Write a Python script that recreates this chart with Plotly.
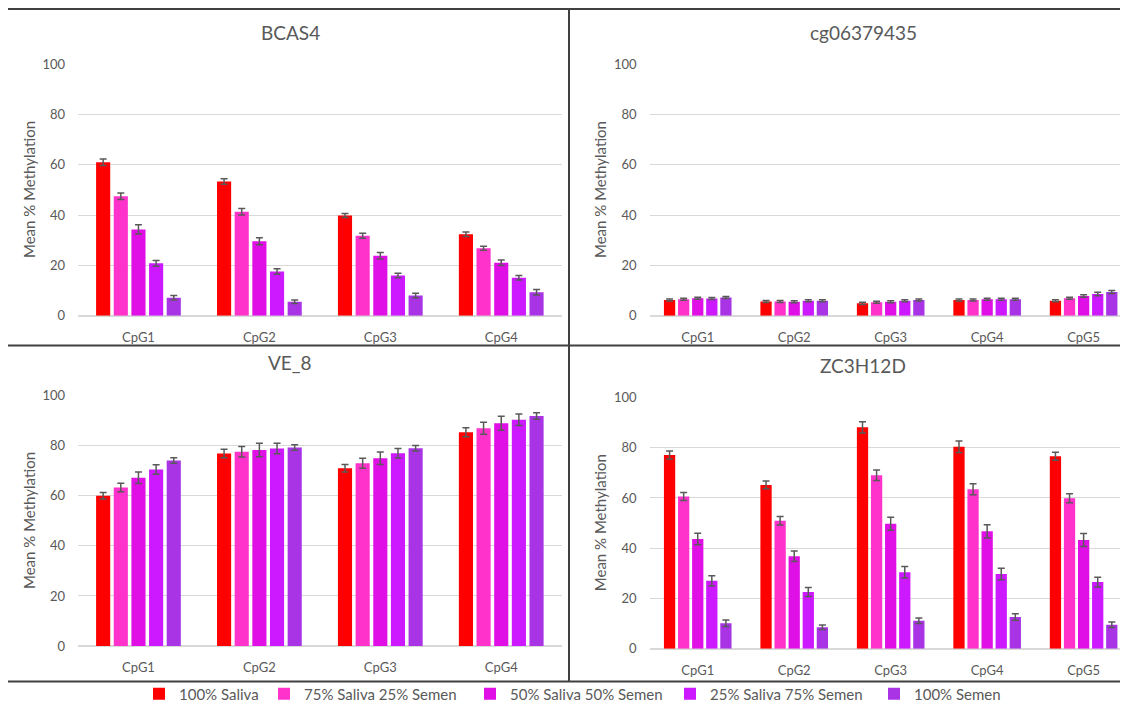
import plotly.graph_objects as go

# ---------------- data ----------------
series_names = ["100% Saliva", "75% Saliva 25% Semen", "50% Saliva 50% Semen",
                "25% Saliva 75% Semen", "100% Semen"]
series_colors = ["#FF0000", "#FF33CC", "#E00FE6", "#CC19FF", "#A834E6"]

cpg4 = ["CpG1", "CpG2", "CpG3", "CpG4"]
cpg5 = ["CpG1", "CpG2", "CpG3", "CpG4", "CpG5"]

# each list: one row per series (100% Saliva ... 100% Semen), one value per CpG
bcas4_values = [
    [61.0, 53.3, 39.8, 32.4],
    [47.5, 41.3, 31.8, 26.8],
    [34.3, 29.6, 23.8, 21.0],
    [20.8, 17.6, 16.0, 15.1],
    [7.1, 5.5, 8.0, 9.3],
]
bcas4_errors = [
    [1.3, 1.1, 0.8, 0.9],
    [1.3, 1.3, 1.0, 0.8],
    [1.8, 1.4, 1.3, 1.1],
    [1.1, 1.1, 0.9, 0.9],
    [0.9, 0.7, 0.9, 1.1],
]

cg06379435_values = [
    [6.2, 5.6, 4.9, 6.2, 5.9],
    [6.5, 5.6, 5.3, 6.2, 6.9],
    [6.9, 5.5, 5.5, 6.5, 7.8],
    [6.8, 5.9, 5.9, 6.5, 8.6],
    [7.2, 5.9, 6.2, 6.5, 9.4],
]
cg06379435_errors = [
    [0.4, 0.4, 0.4, 0.4, 0.4],
    [0.4, 0.4, 0.4, 0.4, 0.4],
    [0.4, 0.4, 0.4, 0.4, 0.5],
    [0.4, 0.4, 0.4, 0.4, 0.7],
    [0.4, 0.4, 0.4, 0.4, 0.6],
]

ve8_values = [
    [60.0, 76.9, 71.0, 85.4],
    [63.3, 77.6, 73.0, 87.0],
    [67.2, 78.3, 75.0, 89.0],
    [70.5, 78.9, 77.0, 90.4],
    [74.1, 79.3, 79.0, 91.9],
]
ve8_errors = [
    [1.3, 1.7, 1.5, 1.8],
    [1.7, 2.1, 2.0, 2.4],
    [2.3, 2.7, 2.5, 2.8],
    [1.9, 2.1, 1.9, 2.3],
    [1.1, 1.1, 1.1, 1.3],
]

zc3h12d_values = [
    [77.1, 65.2, 88.1, 80.4, 76.6],
    [60.6, 50.9, 69.0, 63.5, 59.9],
    [43.7, 36.8, 49.7, 46.7, 43.3],
    [27.0, 22.6, 30.4, 29.7, 26.5],
    [10.1, 8.5, 11.1, 12.6, 9.5],
]
zc3h12d_errors = [
    [1.6, 1.5, 2.2, 2.3, 1.6],
    [1.6, 1.7, 2.1, 2.2, 1.8],
    [2.3, 2.1, 2.6, 2.6, 2.6],
    [2.0, 1.8, 2.3, 2.3, 1.9],
    [1.3, 0.9, 1.1, 1.3, 1.1],
]

panel_titles = ["BCAS4", "cg06379435", "VE_8", "ZC3H12D"]
y_title = "Mean % Methylation"

# ---------------- figure ----------------
# the page body has an 8px margin, so the figure is 8px smaller and every
# screen position below is shifted by that offset
OFF = 8
FW, FH = 1128 - OFF, 707 - OFF
FONT = "Lato, Carlito, 'Open Sans', sans-serif"
TXT = "#595959"
GRID = "#D9D9D9"


def px_x(p):
    return min(max((p - OFF) / FW, 0.0), 1.0)


def px_y(p):
    return min(max(1 - (p - OFF) / FH, 0.0), 1.0)


panels = [
    dict(title=panel_titles[0], cats=cpg4, vals=bcas4_values, errs=bcas4_errors,
         xd=[px_x(78), px_x(561.7)], yd=[px_y(315.7), px_y(63.3)], xr=[-0.5, 3.5],
         tx=290, ty=32.5),
    dict(title=panel_titles[1], cats=cpg5, vals=cg06379435_values, errs=cg06379435_errors,
         xd=[px_x(649.5), 1.0], yd=[px_y(315.7), px_y(63.3)], xr=[-0.5, 4.46],
         tx=863, ty=32.5),
    dict(title=panel_titles[2], cats=cpg4, vals=ve8_values, errs=ve8_errors,
         xd=[px_x(78), px_x(561.7)], yd=[px_y(646), px_y(395)], xr=[-0.5, 3.5],
         tx=290, ty=362.7),
    dict(title=panel_titles[3], cats=cpg5, vals=zc3h12d_values, errs=zc3h12d_errors,
         xd=[px_x(649.5), 1.0], yd=[px_y(648.7), px_y(396.7)], xr=[-0.5, 4.46],
         tx=863, ty=366),
]

legend_keys = ["legend", "legend2", "legend3", "legend4", "legend5"]
legend_left = [139, 264, 470, 670, 874]   # screen px of each legend entry

fig = go.Figure()
layout = dict(
    width=FW, height=FH,
    margin=dict(l=0, r=0, t=0, b=0, pad=0, autoexpand=False),
    paper_bgcolor="white", plot_bgcolor="white",
    barmode="group", bargap=0.27, bargroupgap=0.2,
    font=dict(family=FONT, color=TXT),
    showlegend=True,
    annotations=[], shapes=[],
)
for k, lx in zip(legend_keys, legend_left):
    layout[k] = dict(orientation="h", x=px_x(lx), xanchor="left",
                     y=px_y(694), yanchor="middle", borderwidth=0,
                     font=dict(family=FONT, size=15, color=TXT),
                     bgcolor="rgba(0,0,0,0)")

for i, p in enumerate(panels):
    sfx = "" if i == 0 else str(i + 1)
    xa, ya = "x" + sfx, "y" + sfx
    for s in range(5):
        fig.add_trace(go.Bar(
            x=p["cats"], y=p["vals"][s], name=series_names[s],
            marker=dict(color=series_colors[s], line=dict(width=0)),
            error_y=dict(type="data", array=p["errs"][s], color="#595959",
                         thickness=1.5, width=3.5),
            xaxis=xa, yaxis=ya, showlegend=(i == 0), legendgroup=series_names[s],
            legend=legend_keys[s],
        ))
    layout["xaxis" + sfx] = dict(
        domain=p["xd"], anchor=ya, type="category", range=p["xr"],
        showgrid=False, zeroline=False, showline=False, ticks="",
        tickfont=dict(family=FONT, size=13, color=TXT), ticklabelstandoff=12,
        automargin=False, fixedrange=True,
    )
    layout["yaxis" + sfx] = dict(
        domain=p["yd"], anchor=xa, range=[0, 100.3], dtick=20, tick0=0,
        showgrid=True, gridcolor=GRID, gridwidth=1.3,
        zeroline=True, zerolinecolor=GRID, zerolinewidth=1.6,
        showline=False, ticks="",
        tickfont=dict(family=FONT, size=13, color=TXT), ticklabelstandoff=12,
        title=dict(text=y_title, font=dict(family=FONT, size=15, color=TXT), standoff=3),
        automargin=False, fixedrange=True,
    )
    layout["annotations"].append(dict(
        text=p["title"], x=px_x(p["tx"]), y=px_y(p["ty"]), xref="paper", yref="paper",
        xanchor="center", yanchor="middle", showarrow=False,
        font=dict(family=FONT, size=19, color=TXT),
    ))

BORDER = "#404040"
for (x0, y0, x1, y1, w) in [(7, 8.6, 1128, 8.6, 3), (7, 345.5, 1128, 345.5, 2),
                            (7, 681.5, 1128, 681.5, 2), (569, 7, 569, 681.5, 2)]:
    layout["shapes"].append(dict(
        type="line", xref="paper", yref="paper",
        x0=px_x(x0), x1=px_x(x1), y0=px_y(y0), y1=px_y(y1),
        line=dict(color=BORDER, width=w),
    ))

fig.update_layout(**layout)
fig.write_html("out.html")
